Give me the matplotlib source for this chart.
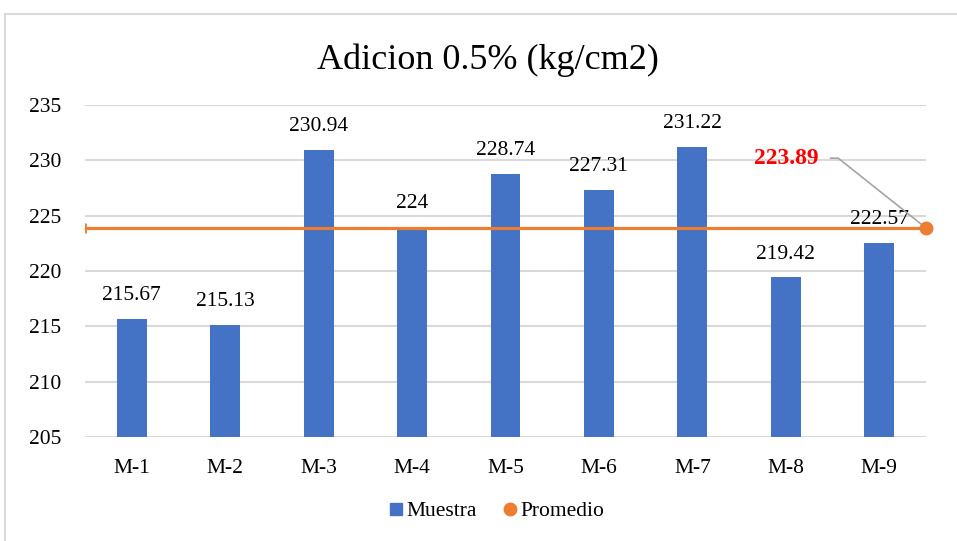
import matplotlib.pyplot as plt
import numpy as np
from matplotlib.patches import Rectangle

plt.rcParams["font.family"] = ["Liberation Serif", "DejaVu Serif"]

# --- data ---
muestras = ["M-1", "M-2", "M-3", "M-4", "M-5", "M-6", "M-7", "M-8", "M-9"]
valores = [215.67, 215.13, 230.94, 224, 228.74, 227.31, 231.22, 219.42, 222.57]
promedio = 223.89
valor_labels = ["215.67", "215.13", "230.94", "224", "228.74", "227.31", "231.22", "219.42", "222.57"]

x = np.arange(len(muestras))
azul = "#4472C4"
naranja = "#ED7D31"
gris = "#D9D9D9"

fig = plt.figure(figsize=(9.57, 5.41), dpi=100)
ax = fig.add_axes([0.0888, 0.1922, 0.8788, 0.6137])

# chart frame
fig.patches.append(Rectangle((5 / 957, -0.05), 1.0, 1 - 14 / 541 + 0.05,
                             transform=fig.transFigure, fill=False,
                             edgecolor="#D9D9D9", linewidth=1.5))

ax.bar(x, valores, width=0.32, color=azul, label="Muestra", zorder=2)
for xi, v, lab in zip(x, valores, valor_labels):
    ax.annotate(lab, (xi, v), xytext=(0, 10), textcoords="offset points",
                ha="center", va="bottom", fontsize=15.5, color="black")

# average line across the plot, marker at the right end
ax.plot([-0.5, 8.5], [promedio, promedio], color=naranja, lw=2.3, zorder=3)
ax.plot([-0.5], [promedio], marker="|", color=naranja, markersize=7, mew=2, zorder=3)
ax.plot([8.5], [promedio], marker="o", color=naranja, markersize=9, ls="none",
        zorder=4, clip_on=False, label="Promedio")

# average label with leader line
ax.text(7.35, 230.2, f"{promedio:.2f}", color="#FF0000", fontsize=17,
        fontweight="bold", ha="right", va="center")
ax.plot([7.48, 7.56, 8.5], [230.2, 230.2, promedio], color="#A5A5A5", lw=1.2,
        zorder=3, clip_on=False)

ax.set_xlim(-0.5, 8.5)
ax.set_ylim(205, 235)
ax.set_yticks(np.arange(205, 236, 5))
ax.set_xticks(x)
ax.set_xticklabels(muestras)
ax.tick_params(axis="both", length=0, labelsize=15.5, colors="black")
ax.tick_params(axis="y", pad=17)
ax.tick_params(axis="x", pad=16)
ax.grid(axis="y", color=gris, lw=1.5)
ax.set_axisbelow(True)
for s in ax.spines.values():
    s.set_visible(False)

fig.text(0.51, 0.888, "Adicion 0.5% (kg/cm2)", ha="center", va="center", fontsize=26)

h_bar = plt.Line2D([], [], marker="s", color=azul, ls="none", markersize=8)
h_pt = plt.Line2D([], [], marker="o", color=naranja, ls="none", markersize=9)
fig.legend([h_bar, h_pt], ["Muestra", "Promedio"], loc="center",
           bbox_to_anchor=(0.517, 0.055), ncol=2, frameon=False, fontsize=15.5,
           handletextpad=0.0, columnspacing=1.0, handlelength=1.0)

fig.savefig("out.png", dpi=100)
